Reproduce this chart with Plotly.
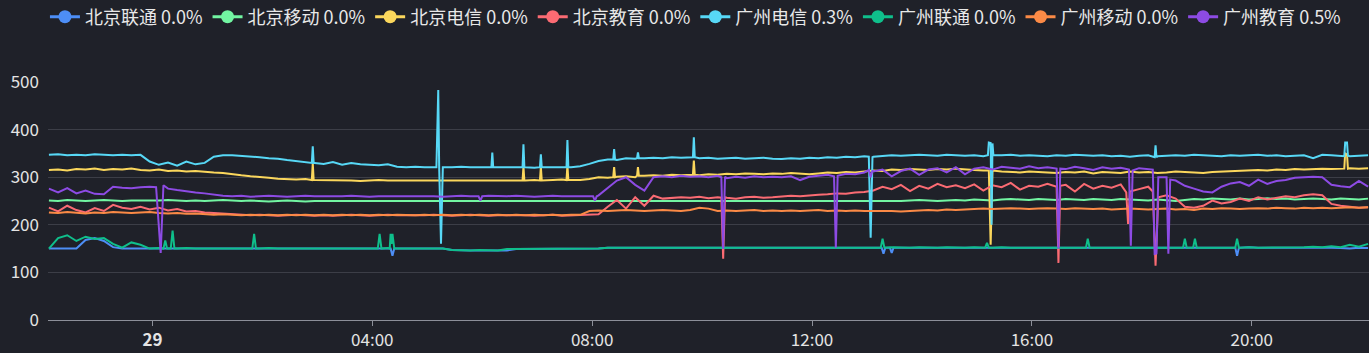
import pandas as pd
import plotly.graph_objects as go

# ---------------- data ----------------
NAMES = ["北京联通 0.0%", "北京移动 0.0%", "北京电信 0.0%", "北京教育 0.0%",
         "广州电信 0.3%", "广州联通 0.0%", "广州移动 0.0%", "广州教育 0.5%"]
COLORS = ["#4d8ef6", "#72f5a2", "#fbd75c", "#fb6b73",
          "#57d8f6", "#0fbf8b", "#fb8a46", "#8d4be4"]

GRID_START = "2024-05-28 22:07"   # 10-minute samples, 145 points
DAY = "2024-05-29 "

bj_unicom = [
    150,150,150,150,168,172,166,153,150,150,
    150,150,150,150,151,150,150,151,150,150,
    150,151,150,150,151,150,150,151,150,150,
    150,151,150,150,151,150,150,151,150,150,
    150,150,150,150,147,146,146,146,146,146,
    146,149,149,149,149,149,149,149,149,149,
    150,152,152,152,153,152,152,153,152,152,
    152,153,152,152,153,152,152,153,152,152,
    153,152,152,153,152,152,153,152,152,153,
    152,152,153,152,152,153,152,152,153,152,
    152,153,152,152,153,152,152,153,152,152,
    153,152,152,153,152,152,153,152,152,153,
    152,152,153,152,152,153,152,152,153,152,
    152,153,152,152,153,152,152,153,152,152,
    152,151,150,152,151]
bj_mobile = [
    251,250,252,251,250,251,252,251,250,251,
    251,250,251,252,251,250,251,250,251,252,
    251,250,251,250,249,250,251,250,249,250,
    250,249,250,249,250,249,250,249,250,249,
    249,250,249,250,249,250,249,250,249,250,
    249,250,249,250,249,250,249,250,249,249,
    249,250,249,250,249,250,249,250,249,250,
    249,250,249,250,249,250,249,250,249,250,
    249,250,249,250,249,250,249,250,249,250,
    249,250,249,250,251,252,251,250,251,252,
    251,253,252,251,253,254,253,252,254,253,
    252,254,253,252,254,253,252,254,253,252,
    251,253,252,250,252,254,253,255,254,253,
    255,253,254,256,254,255,253,254,255,254,
    253,255,254,253,255]
bj_telecom = [
    315,316,314,317,316,318,315,317,316,318,
    315,314,316,313,314,312,313,311,310,309,
    306,304,302,301,299,297,296,295,296,294,
    294,293,294,293,292,293,294,293,293,294,
    293,294,293,293,294,293,294,293,294,293,
    293,294,293,294,293,294,295,294,294,296,
    300,299,301,302,300,303,304,303,305,304,
    305,304,306,305,307,306,308,307,306,308,
    307,309,308,306,308,310,309,311,310,312,
    314,313,316,315,317,316,315,317,316,318,
    316,315,314,313,312,311,310,312,311,310,
    309,311,310,312,308,311,310,309,312,310,
    311,309,310,312,311,310,309,311,312,313,
    313,314,315,314,316,315,317,316,317,318,
    317,318,319,318,319]
bj_edu = [
    236,228,240,231,226,235,229,242,236,233,
    238,232,236,230,233,228,229,226,225,224,
    222,221,220,221,220,219,220,221,220,219,
    220,219,220,221,220,219,220,221,220,220,
    219,220,221,220,219,220,221,220,219,220,
    220,221,220,219,220,221,219,220,221,221,
    222,238,252,234,258,240,261,255,256,258,
    257,259,256,258,257,255,258,259,257,258,
    259,261,260,262,263,264,266,265,268,269,
    272,280,275,284,271,282,276,286,279,283,
    277,285,272,283,279,288,274,282,280,286,
    279,284,270,286,276,282,278,285,262,275,
    280,276,262,255,238,236,240,251,245,248,
    255,250,258,253,256,260,258,262,264,262,
    244,240,238,236,237]
gz_telecom = [
    347,348,346,347,346,348,347,346,347,346,
    347,333,326,331,324,333,327,330,343,346,
    346,345,344,342,340,339,336,334,332,330,
    328,332,326,330,327,326,325,327,322,321,
    322,321,321,321,321,322,321,321,322,321,
    321,320,321,320,321,321,322,321,323,328,
    334,337,336,340,339,340,341,340,342,341,
    342,340,341,339,340,341,339,340,341,339,
    338,340,339,341,340,342,341,343,342,344,
    343,345,346,345,346,347,346,345,347,346,
    345,346,344,345,346,347,345,346,345,344,
    346,345,347,346,345,346,344,345,343,345,
    346,344,345,346,345,347,346,345,344,346,
    345,346,347,345,346,344,345,346,340,347,
    346,345,344,345,346]
gz_unicom = [
    150,172,178,166,175,170,172,160,152,163,
    158,150,151,150,150,151,150,150,151,150,
    150,151,150,150,151,150,150,151,150,150,
    150,151,150,150,151,150,150,151,150,150,
    150,151,150,150,147,146,146,147,146,146,
    149,149,149,149,149,149,149,149,149,149,
    150,152,152,152,153,152,152,153,152,152,
    152,153,152,152,153,152,152,153,152,152,
    153,152,152,153,152,152,153,152,152,153,
    152,152,153,152,152,153,152,152,153,152,
    152,153,152,152,153,152,152,153,152,152,
    153,152,152,153,152,152,153,152,152,153,
    152,152,153,152,152,153,152,152,153,152,
    152,153,152,152,153,152,152,153,154,153,
    155,153,158,154,160]
gz_mobile = [
    226,225,227,226,224,226,225,227,226,225,
    226,227,225,224,225,223,224,222,221,222,
    221,220,221,220,221,220,221,220,221,220,
    221,220,221,220,221,220,221,220,221,220,
    220,221,220,221,220,221,220,221,220,221,
    220,221,220,221,220,221,220,221,221,229,
    230,229,230,231,230,229,230,231,230,229,
    231,236,234,229,230,229,230,231,229,230,
    229,230,229,230,231,229,230,229,230,229,
    229,230,229,228,229,230,231,230,232,231,
    232,233,234,233,234,235,234,233,234,235,
    234,233,235,234,233,234,232,233,234,233,
    232,233,234,232,233,231,234,233,235,234,
    233,234,235,234,236,235,234,236,235,236,
    235,236,237,236,237]
gz_edu = [
    276,268,277,266,272,265,264,280,278,277,
    279,280,272,276,273,270,268,266,263,261,
    260,261,259,260,261,260,259,260,261,260,
    260,259,260,261,260,259,260,260,261,260,
    260,261,260,259,260,261,260,259,261,260,
    260,261,260,259,260,261,260,260,259,260,
    262,278,293,300,284,272,300,302,300,303,
    301,302,300,303,298,301,299,302,300,301,
    300,302,294,301,303,305,304,307,306,310,
    312,316,302,313,318,305,316,319,310,321,
    306,318,321,316,322,320,318,323,319,321,
    320,317,322,319,315,321,318,320,316,319,
    316,318,305,293,282,276,270,268,280,287,
    290,282,295,286,292,294,299,300,301,300,
    284,281,279,292,280]

# short excursions (time on the 29th, value), one group per event
bj_unicom_spikes = [
    [("04:20",150),("04:22",135),("04:24",150)],
    [("13:16",152),("13:18",139),("13:20",152)],
    [("13:25",152),("13:27",141),("13:29",152)],
    [("19:42",152),("19:44",135),("19:46",152)],
]
bj_mobile_spikes = []
bj_telecom_spikes = [
    [("02:54",294),("02:55",329),("02:56",294)],
    [("06:44",293),("06:45",322),("06:46",293)],
    [("07:03",293),("07:04",322),("07:05",293)],
    [("07:32",294),("07:33",325),("07:34",294)],
    [("08:23",300),("08:24",321),("08:25",300)],
    [("08:49",303),("08:50",321),("08:51",303)],
    [("09:50",305),("09:51",335),("09:52",305)],
    [("15:13",314),("15:15",158),("15:17",314)],
    [("21:41",318),("21:42",350),("21:44",348),("21:45",318)],
]
bj_edu_spikes = [
    [("10:21",257),("10:23",129),("10:25",258)],
    [("16:27",280),("16:29",120),("16:31",282)],
    [("17:43",268),("17:45",202),("17:47",270)],
    [("18:12",270),("18:15",114),("18:18",258)],
]
gz_telecom_spikes = [
    [("02:54",330),("02:55",365),("02:56",330)],
    [("05:10",321),("05:12",483),("05:13",321),("05:15",160),("05:17",321)],
    [("06:10",321),("06:11",352),("06:12",321)],
    [("06:44",321),("06:45",369),("06:46",321)],
    [("07:03",321),("07:04",348),("07:05",321)],
    [("07:32",321),("07:33",378),("07:34",321)],
    [("08:23",337),("08:24",359),("08:25",337)],
    [("08:49",340),("08:50",352),("08:51",340)],
    [("09:50",342),("09:51",384),("09:52",342)],
    [("13:02",343),("13:04",173),("13:06",342)],
    [("15:12",346),("15:13",373),("15:15",372),("15:16",200),("15:17",371),("15:18",346)],
    [("18:14",342),("18:15",367),("18:16",342)],
    [("21:41",344),("21:42",373),("21:44",373),("21:45",345)],
]
gz_unicom_spikes = [
    [("00:12",150),("00:14",167),("00:16",150)],
    [("00:20",150),("00:22",188),("00:24",150)],
    [("01:49",150),("01:51",181),("01:53",150)],
    [("04:06",150),("04:08",181),("04:10",150)],
    [("04:19",150),("04:20",181),("04:21",160),("04:22",181),("04:24",150)],
    [("13:15",152),("13:17",171),("13:19",152)],
    [("15:09",152),("15:11",162),("15:13",152)],
    [("16:59",152),("17:01",171),("17:03",152)],
    [("18:45",152),("18:47",171),("18:49",152)],
    [("18:56",152),("18:58",171),("19:00",152)],
    [("19:42",152),("19:44",171),("19:46",152)],
]
gz_mobile_spikes = []
gz_edu_spikes = [
    [("00:04",279),("00:09",141),("00:12",283)],
    [("05:56",260),("05:58",251),("06:00",260)],
    [("08:01",260),("08:03",251),("08:05",260)],
    [("10:21",300),("10:23",150),("10:25",301)],
    [("12:24",302),("12:26",152),("12:28",303)],
    [("13:02",315),("13:04",300),("13:06",314)],
    [("16:27",318),("16:29",150),("16:31",318)],
    [("17:46",316),("17:48",156),("17:50",314)],
    [("18:12",316),("18:14",139),("18:16",140),("18:18",300)],
    [("18:27",300),("18:29",139),("18:31",295)],
]

SERIES = [bj_unicom, bj_mobile, bj_telecom, bj_edu, gz_telecom, gz_unicom, gz_mobile, gz_edu]
SPIKES = [bj_unicom_spikes, bj_mobile_spikes, bj_telecom_spikes, bj_edu_spikes,
          gz_telecom_spikes, gz_unicom_spikes, gz_mobile_spikes, gz_edu_spikes]

X_TICKS = ["2024-05-29 00:00", "2024-05-29 04:00", "2024-05-29 08:00",
           "2024-05-29 12:00", "2024-05-29 16:00", "2024-05-29 20:00"]
X_TICKTEXT = ["<b>29</b>", "04:00", "08:00", "12:00", "16:00", "20:00"]
Y_TICKS = [0, 100, 200, 300, 400, 500]

# ---------------- build ----------------
grid = pd.date_range(GRID_START, periods=145, freq="10min")
for s in SERIES:
    assert len(s) == 145, len(s)


def build(values, groups):
    s = pd.Series(values, index=grid, dtype=float)
    parts = []
    for g in groups:
        t = pd.to_datetime([DAY + a for a, _ in g])
        s = s[(s.index < t.min()) | (s.index > t.max())]
        parts.append(pd.Series([b for _, b in g], index=t, dtype=float))
    if parts:
        s = pd.concat([s] + parts).sort_index()
    return s


fig = go.Figure()
for name, color, vals, sp in zip(NAMES, COLORS, SERIES, SPIKES):
    s = build(vals, sp)
    fig.add_trace(go.Scatter(x=s.index, y=s.values, mode="lines", name=name,
                             line=dict(color=color, width=2), showlegend=False,
                             legendgroup=name))
for name, color in zip(NAMES, COLORS):
    fig.add_trace(go.Scatter(x=[None], y=[None], mode="lines+markers", name=name,
                             line=dict(color=color, width=3),
                             marker=dict(color=color, size=13), legendgroup=name))

BG = "#1f2129"
fig.update_layout(
    width=1369, height=353,
    paper_bgcolor=BG, plot_bgcolor=BG,
    margin=dict(l=48, r=0, t=82, b=33),
    font=dict(family="Noto Sans CJK SC, Noto Sans, sans-serif", color="#e4e4e4", size=17),
    legend=dict(orientation="h", xref="container", yref="container",
                x=0.508, xanchor="center", y=0.952, yanchor="middle",
                font=dict(size=18, color="#e8e8e8"), bgcolor="rgba(0,0,0,0)",
                itemwidth=30, tracegroupgap=0),
    xaxis=dict(type="date",
               range=["2024-05-28 22:06", "2024-05-29 22:08"],
               tickvals=X_TICKS, ticktext=X_TICKTEXT,
               showgrid=False, showline=True, linecolor="#8c8f99", linewidth=1,
               ticks="outside", ticklen=5, tickcolor="#8c8f99",
               tickfont=dict(size=17, color="#e4e4e4"), zeroline=False),
    yaxis=dict(range=[0, 500], tickvals=Y_TICKS, showgrid=True, gridcolor="#3c3e47",
               gridwidth=1, zeroline=False, showline=False, ticks="",
               ticklabelstandoff=8,
               tickfont=dict(size=17, color="#e4e4e4")),
)

fig.write_html("out.html")
